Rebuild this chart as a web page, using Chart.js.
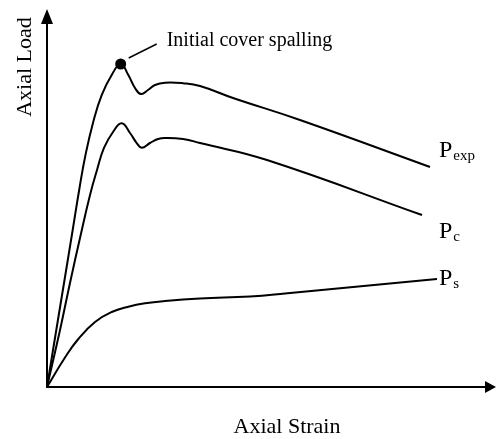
<!DOCTYPE html>
<html>
<head>
<meta charset="utf-8">
<script src="https://cdn.jsdelivr.net/npm/chart.js@4"></script>
<style>
  html, body { margin: 0; padding: 0; background: #fff; }
  #wrap { width: 496px; height: 439px; }
</style>
</head>
<body>
<div id="wrap"><canvas id="chart" width="496" height="439"></canvas></div>
<script>
'use strict';

// values, axes scaled 0..100 (arbitrary units)
const expStrain = [0, 2.07, 3.90, 5.72, 7.24, 8.57, 10.31, 12.18, 14.41, 16.41, 18.11, 19.60, 20.94, 22.49, 24.05, 26.28, 30.29, 34.08, 41.43, 56.35, 85.30];
const expLoad   = [0, 15.12, 28.38, 41.64, 52.79, 61.54, 70.37, 77.45, 82.76, 85.68, 82.76, 79.31, 77.72, 78.78, 80.11, 80.72, 80.58, 79.84, 76.66, 70.82, 58.36];

const concStrain = [0, 2.90, 5.12, 7.35, 9.58, 11.14, 12.69, 14.70, 16.64, 18.49, 19.98, 21.09, 22.94, 24.72, 26.28, 30.29, 34.08, 49.00, 83.52];
const concLoad   = [0, 15.12, 27.59, 39.52, 50.93, 57.56, 63.40, 67.64, 69.95, 67.37, 64.72, 63.47, 64.72, 65.78, 66.05, 65.78, 64.72, 60.21, 45.62];

const steelStrain = [0, 4.01, 6.97, 10.69, 14.41, 18.11, 21.83, 26.28, 34.08, 45.21, 53.01, 86.86];
const steelLoad   = [0, 7.82, 12.73, 17.24, 19.89, 21.30, 22.20, 22.81, 23.47, 24.01, 24.80, 28.65];

const spallIndex = 9; // peak of the experimental curve

const toPoints = (xs, ys) => xs.map((x, i) => ({x: x, y: ys[i]}));

const lineStyle = {
    borderColor: '#000',
    backgroundColor: '#000',
    borderWidth: 2,
    fill: false,
    tension: 0.45,
    pointRadius: 0
};

// axes with arrows, labels and the annotation
const drawExtras = {
    id: 'drawExtras',
    afterDatasetsDraw(chart) {
        const ctx = chart.ctx;
        const a = chart.chartArea;
        ctx.save();
        ctx.strokeStyle = '#000';
        ctx.fillStyle = '#000';
        ctx.lineWidth = 2;

        // axis lines
        ctx.beginPath();
        ctx.moveTo(a.left, a.top + 10);
        ctx.lineTo(a.left, a.bottom);
        ctx.lineTo(a.right - 8, a.bottom);
        ctx.stroke();

        // arrowheads
        ctx.beginPath();
        ctx.moveTo(a.left, a.top - 1);
        ctx.lineTo(a.left - 6, a.top + 14);
        ctx.lineTo(a.left + 6, a.top + 14);
        ctx.closePath();
        ctx.fill();
        ctx.beginPath();
        ctx.moveTo(a.right, a.bottom);
        ctx.lineTo(a.right - 11, a.bottom - 6);
        ctx.lineTo(a.right - 11, a.bottom + 6);
        ctx.closePath();
        ctx.fill();

        // annotation leader
        const xs = chart.scales.x, ys = chart.scales.y;
        const px = xs.getPixelForValue(expStrain[spallIndex]);
        const py = ys.getPixelForValue(expLoad[spallIndex]);
        ctx.lineWidth = 1.5;
        ctx.beginPath();
        ctx.moveTo(px + 8, py - 6);
        ctx.lineTo(px + 36, py - 20);
        ctx.stroke();

        ctx.font = '20px "Liberation Serif", "Times New Roman", serif';
        ctx.textAlign = 'left';
        ctx.textBaseline = 'alphabetic';
        ctx.fillText('Initial cover spalling', px + 46, 46);

        // axis titles
        ctx.font = '22px "Liberation Serif", "Times New Roman", serif';
        ctx.textAlign = 'center';
        ctx.fillText('Axial Strain', 287, 433);
        ctx.save();
        ctx.translate(31, 67);
        ctx.rotate(-Math.PI / 2);
        ctx.fillText('Axial Load', 0, 0);
        ctx.restore();

        // curve labels
        const label = (main, sub, x, y) => {
            ctx.textAlign = 'left';
            ctx.font = '24px "Liberation Serif", "Times New Roman", serif';
            ctx.fillText(main, x, y);
            const w = ctx.measureText(main).width;
            ctx.font = '15px "Liberation Serif", "Times New Roman", serif';
            ctx.fillText(sub, x + w + 1, y + 3);
        };
        label('P', 'exp', 439, 157);
        label('P', 'c', 439, 238);
        label('P', 's', 439, 285);

        ctx.restore();
    }
};

new Chart(document.getElementById('chart'), {
    type: 'line',
    data: {
        datasets: [
            Object.assign({}, lineStyle, {
                label: 'Pexp',
                data: toPoints(expStrain, expLoad),
                pointRadius: expStrain.map((v, i) => i === spallIndex ? 4.5 : 0)
            }),
            Object.assign({}, lineStyle, {
                label: 'Pc',
                data: toPoints(concStrain, concLoad)
            }),
            Object.assign({}, lineStyle, {
                label: 'Ps',
                data: toPoints(steelStrain, steelLoad)
            })
        ]
    },
    options: {
        responsive: false,
        animation: false,
        layout: { padding: { left: 47, right: 0, top: 10, bottom: 52 } },
        scales: {
            x: { type: 'linear', min: 0, max: 100, display: false },
            y: { type: 'linear', min: 0, max: 100, display: false }
        },
        plugins: {
            legend: { display: false },
            tooltip: { enabled: false }
        }
    },
    plugins: [drawExtras]
});
</script>
</body>
</html>
